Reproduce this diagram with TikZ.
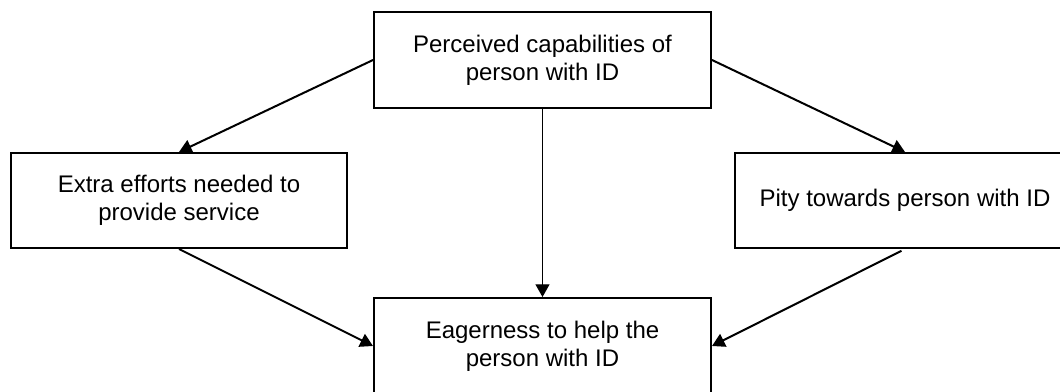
\documentclass[tikz,border=0pt]{standalone}
\usepackage{fontspec}
\setmainfont{Liberation Sans}
\usetikzlibrary{arrows.meta}
\begin{document}
\begin{tikzpicture}[x=0.75pt,y=-0.75pt,
  box/.style={draw=black, line width=1.5pt, fill=white, align=center,
    inner sep=0pt, font=\fontsize{18}{21}\selectfont},
  conn/.style={line width=1.5pt, -{Triangle[length=9.5pt,width=10.5pt]}},
  thinconn/.style={line width=0.8pt, -{Triangle[length=9.5pt,width=10.5pt]}}]
\useasboundingbox (0,0) rectangle (1060,392);
\clip (0,0) rectangle (1060,392);
\node[box, minimum width=337*0.75pt, minimum height=96*0.75pt] (top) at (542.5,60) {Perceived capabilities of\\person with ID};
\node[box, minimum width=336*0.75pt, minimum height=95*0.75pt] (left) at (179,200.5) {Extra efforts needed to\\provide service};
\node[box, minimum width=340*0.75pt, minimum height=95*0.75pt] (right) at (905,200.5) {Pity towards person with ID};
\node[box, minimum width=337*0.75pt, minimum height=96*0.75pt] (bottom) at (542.5,346) {Eagerness to help the\\person with ID};
\draw[conn] (top.west) -- (left.north);
\draw[conn] (top.east) -- (right.north);
\draw[thinconn] (top.south) -- (bottom.north);
\draw[conn] (left.south) -- (bottom.west);
\draw[conn, shorten <=3pt] (right.south) -- (bottom.east);
\end{tikzpicture}
\end{document}
